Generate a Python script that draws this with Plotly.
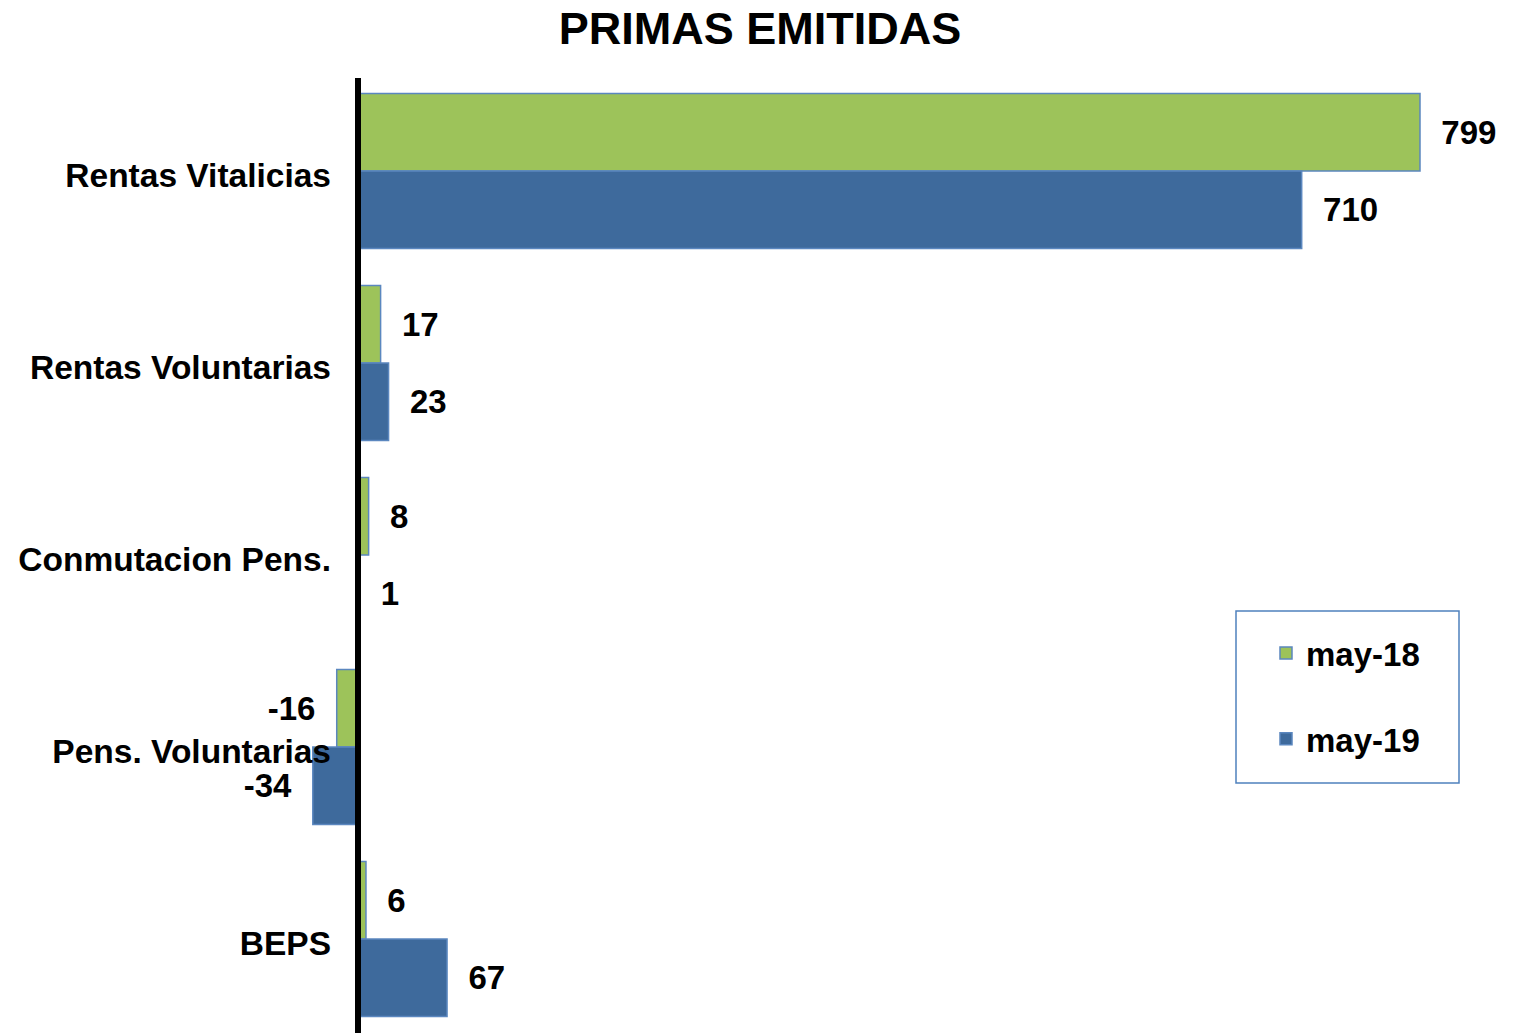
import plotly.graph_objects as go

categories = ["Rentas Vitalicias", "Rentas Voluntarias", "Conmutacion Pens.", "Pens. Voluntarias", "BEPS"]
may18 = [799, 17, 8, -16, 6]
may19 = [710, 23, 1, -34, 67]
series_names = ["may-18", "may-19"]

W, H = 1536, 1033
TOP = 75
NB = "\u00a0\u00a0"


def pad(vals):
    return [f"{NB}{v}" if v >= 0 else f"{v}{NB}" for v in vals]


GREEN = "#9DC35A"
BLUE = "#3E6A9C"
EDGE = "#5B87BF"
FONT = "Liberation Sans, Arial"

fig = go.Figure()
for name, vals, col, grp in [(series_names[0], may18, GREEN, "a"), (series_names[1], may19, BLUE, "b")]:
    fig.add_trace(go.Bar(
        y=categories, x=vals, name=name, orientation="h",
        marker=dict(color=col, line=dict(color=EDGE, width=1.5)),
        text=pad(vals), textposition="outside", cliponaxis=False,
        constraintext="none",
        textfont=dict(family=FONT, size=33, color="black", weight="bold"),
        legendgroup=grp,
    ))

scale = (1420 - 358) / 799.0
x0 = -358 / scale
x1 = (W - 358) / scale
span = (H - TOP) / 192.0

fig.update_layout(
    width=W, height=H,
    margin=dict(l=0, r=0, t=TOP, b=0, pad=0),
    paper_bgcolor="white", plot_bgcolor="white",
    barmode="group", bargap=0.193, bargroupgap=0,
    title=dict(text="PRIMAS EMITIDAS", x=760 / W, xanchor="center",
               y=1 - 28 / H, yanchor="middle", yref="container",
               font=dict(family=FONT, size=45, color="black", weight="bold")),
    xaxis=dict(range=[x0, x1], showgrid=False, zeroline=False, showticklabels=False,
               showline=False, ticks=""),
    yaxis=dict(range=[-0.5 + span, -0.5], showgrid=False, zeroline=False, showline=False,
               ticks="", anchor="free", position=331 / W, ticklabelshift=-4,
               tickfont=dict(family=FONT, size=33.5, color="black", weight="bold")),
    showlegend=True,
    legend=dict(x=1266 / W, xanchor="left", y=1 - (625 - TOP) / (H - TOP), yanchor="top",
                bgcolor="rgba(0,0,0,0)", borderwidth=0, traceorder="grouped", tracegroupgap=40,
                font=dict(family=FONT, size=33, color="black", weight="bold")),
    shapes=[
        dict(type="line", xref="x", yref="paper", x0=0, x1=0, y0=0, y1=1 - (78 - TOP) / (H - TOP),
             line=dict(color="black", width=6), layer="above"),
        dict(type="rect", xref="paper", yref="paper",
             x0=1236 / W, x1=1459 / W,
             y0=1 - (783 - TOP) / (H - TOP), y1=1 - (611 - TOP) / (H - TOP),
             line=dict(color="#4F81BD", width=1.5), fillcolor="rgba(0,0,0,0)", layer="above"),
    ],
)

fig.write_html("out.html", config={"displayModeBar": False},
               post_script="document.body.style.margin='0';")
